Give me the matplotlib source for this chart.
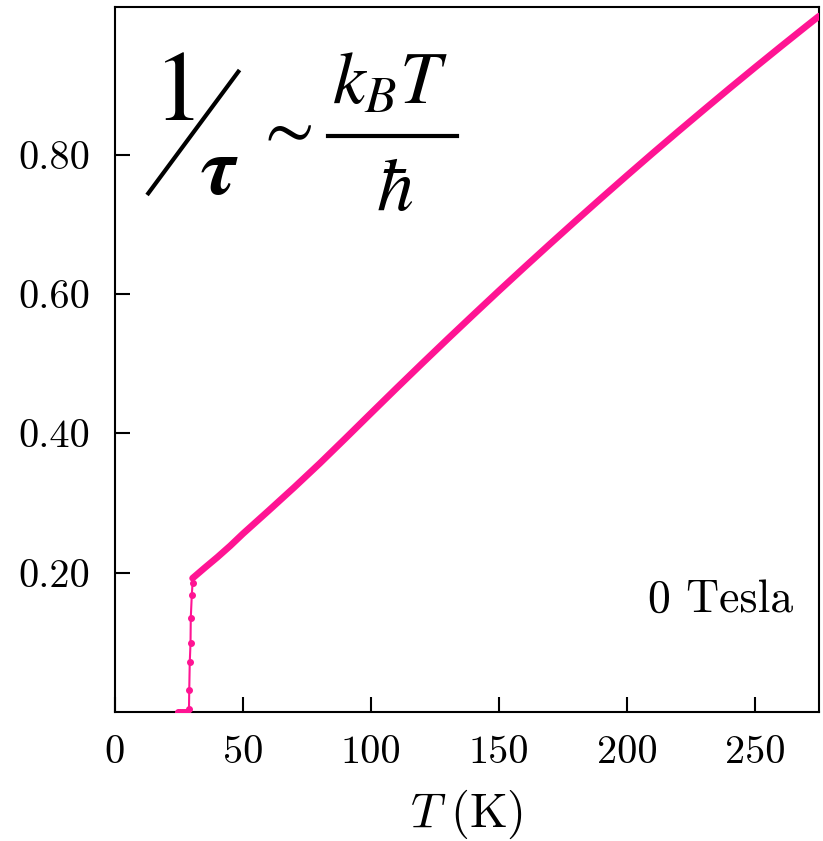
import matplotlib
matplotlib.use('Agg')
import matplotlib.pyplot as plt
from matplotlib.lines import Line2D

# superconducting drop (small markers)
T_drop = [24.6, 25.3, 26.0, 26.8, 27.6, 28.3, 28.9, 29.0, 29.2, 29.5, 29.6, 30.0, 30.3]
rate_drop = [0.0, 0.0, 0.0, 0.0, 0.0, 0.0, 0.004, 0.031, 0.071, 0.099, 0.135, 0.168, 0.185]

# normal state, T-linear scattering rate
T_main = [30.3, 35, 40, 45, 50, 60, 70, 80, 90, 100, 110, 120, 130, 140, 150,
          160, 170, 180, 190, 200, 210, 220, 230, 240, 250, 260, 270, 275]
rate_main = [0.192, 0.2068, 0.2222, 0.2385, 0.256, 0.289, 0.3225, 0.357, 0.3928, 0.429,
             0.465, 0.5006, 0.5358, 0.5705, 0.6049, 0.6388, 0.6723, 0.7054, 0.7381,
             0.7704, 0.8023, 0.8337, 0.8647, 0.8954, 0.9256, 0.9554, 0.9848, 0.9993]

x_ticks = [0, 50, 100, 150, 200, 250]
y_ticks = [0.20, 0.40, 0.60, 0.80]

plt.rcParams['font.family'] = 'cmr10'
plt.rcParams['mathtext.fontset'] = 'cm'
plt.rcParams['axes.unicode_minus'] = False

W, H = 823, 841
fig = plt.figure(figsize=(W / 100, H / 100), dpi=100)
ax = fig.add_axes([115 / W, 1 - 711.9 / H, 704 / W, 704.6 / H])

pink = '#ff1493'
ax.plot(T_drop, rate_drop, '-o', color=pink, lw=1.5, ms=4, zorder=3)
ax.plot(T_main, rate_main, '-', color=pink, lw=4.8, solid_capstyle='round',
        solid_joinstyle='round', zorder=4)

ax.set_xlim(0, 275)
ax.set_ylim(0, 1.012)
ax.set_xticks(x_ticks)
ax.set_xticklabels([str(v) for v in x_ticks])
ax.set_yticks(y_ticks)
ax.set_yticklabels(['%.2f' % v for v in y_ticks])
ax.tick_params(direction='in', length=11, width=1.5, labelsize=29)
ax.tick_params(axis='y', pad=18)
ax.tick_params(axis='x', pad=17)
for s in ax.spines.values():
    s.set_linewidth(1.5)

ax.set_xlabel(r'$T\;(\mathrm{K})$', fontsize=35, labelpad=12)

ax.text((793 - 115) / 704, 0.142, '0 Tesla', transform=ax.transAxes,
        ha='right', va='baseline', fontsize=33)

# formula 1/tau ~ k_B T / hbar, placed in pixel-based figure coords
def fc(px, py):
    return px / W, 1 - py / H

fig.text(*fc(173.5, 95), r'$1$', fontsize=72, ha='center', va='center',
         math_fontfamily='stix')
fig.text(*fc(219, 174), r'$\mathbfit{\tau}$', fontsize=58, ha='center', va='center',
         math_fontfamily='stix')
fig.text(*fc(283, 131), r'$\sim$', fontsize=52, ha='center', va='center',
         math_fontfamily='stix')
fig.text(*fc(390, 85), r'$k_B T$', fontsize=53, ha='center', va='center',
         math_fontfamily='stix')
fig.text(*fc(395, 192), r'$\hbar$', fontsize=53, ha='center', va='center',
         math_fontfamily='stix')
x0, y0 = fc(148.3, 193.3)
x1, y1 = fc(238.3, 71.7)
fig.add_artist(Line2D([x0, x1], [y0, y1], color='black', lw=3, transform=fig.transFigure))
x0, y0 = fc(328, 135.5)
x1, y1 = fc(457, 135.5)
fig.add_artist(Line2D([x0, x1], [y0, y1], color='black', lw=3, transform=fig.transFigure))

fig.savefig('out.png', dpi=100)
